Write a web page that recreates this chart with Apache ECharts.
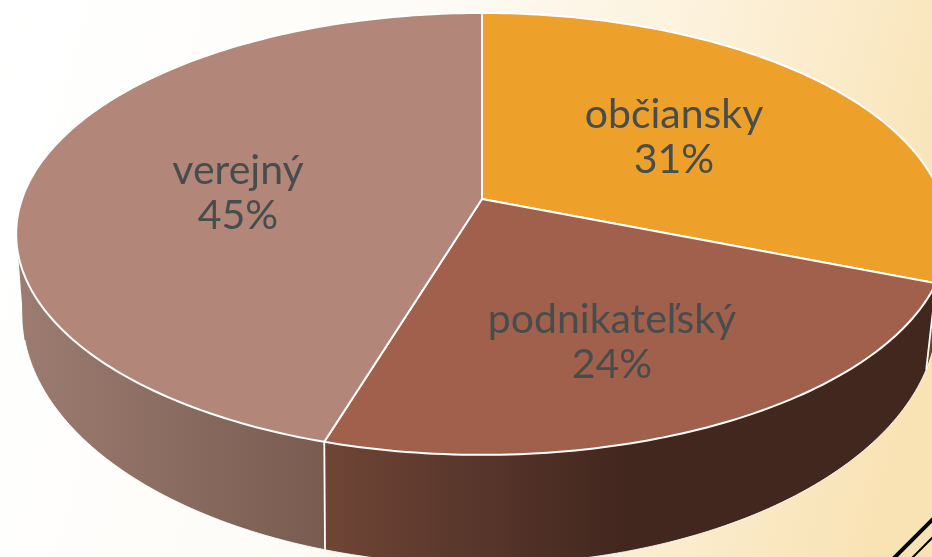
<!DOCTYPE html>
<html><head><meta charset="utf-8">
<style>html,body{margin:0;padding:0;background:#fff}#c{width:932px;height:557px}</style>
<script src="https://cdn.jsdelivr.net/npm/echarts@6/dist/echarts.min.js"></script>
</head><body><div id="c"></div>
<script>
const categories = ['občiansky', 'podnikateľský', 'verejný'];
const shares = [31, 23.7, 45.3];

const topColors = ['#EDA12B', '#A0604B', '#B28678'];
const wallStops = [
  [[0, '#6b4a12'], [1, '#6b4a12']],
  [[0, '#6f4536'], [0.92, '#42271F'], [1, '#42271F']],
  [[0, '#9C7C70'], [1, '#795B50']]
];
const wallRange = [[900, 940], [326, 650], [20, 322]];
const labelCentres = [[674, 137], [612, 342], [238, 193]];
const topRing = { cx: 482, a: 184, b: 199, c: 460, k: -0.158 };
const baseRing = { cx: 480, a: 201.4, b: 274, c: 452, k: -0.158 };
const frontFrom = 90, frontTo = 255, tangentTop = 262;

function project(r, deg, rad) {
  const t = deg * Math.PI / 180;
  const u = Math.sin(t) * (rad === undefined ? 1 : rad);
  const v = -Math.cos(t) * (rad === undefined ? 1 : rad);
  const d = 1 + r.k * v;
  return [r.cx + r.c * u / d, (r.a * v + r.b) / d];
}
const total = shares.reduce((s, x) => s + x, 0);
function arc(r, a0, a1) {
  const n = Math.max(4, Math.ceil(a1 - a0));
  const out = [];
  for (let i = 0; i <= n; i++) out.push(project(r, a0 + (a1 - a0) * i / n));
  return out;
}
function renderItem(params, api) {
  const i = params.dataIndex;
  let before = 0;
  for (let j = 0; j < i; j++) before += api.value(0, j);
  const a0 = before / total * 360;
  const a1 = (before + api.value(0)) / total * 360;
  const top = arc(topRing, a0, a1);
  const base = arc(baseRing, a0, a1);
  const range = wallRange[i];
  const grad = new echarts.graphic.LinearGradient(
    range[0], 0, range[1], 0,
    wallStops[i].map(s => ({ offset: s[0], color: s[1] })), true);
  const apex = project(topRing, 0, 0);
  const children = [
    { type: 'polygon', z2: 1, shape: { points: top.concat(base.slice().reverse()) },
      style: { fill: grad } }
  ];
  if (a0 <= frontTo && a1 >= tangentTop) {
    children.push({ type: 'polygon', z2: 1,
      shape: { points: [project(topRing, tangentTop), project(baseRing, frontTo), project(topRing, frontTo - 25)] },
      style: { fill: grad } });
  }
  const lo = Math.max(a0, frontFrom), hi = Math.min(a1, frontTo);
  children.push(
    { type: 'polyline', z2: 1.5, shape: { points: arc(baseRing, lo, hi) },
      style: { fill: null, stroke: 'rgba(255,255,255,0.85)', lineWidth: 1 } },
    { type: 'polyline', z2: 1.6, shape: { points: [top[top.length - 1], base[base.length - 1]] },
      style: { fill: null, stroke: i === 2 ? 'transparent' : '#fff', lineWidth: 1.8 } },
    { type: 'polygon', z2: 2, shape: { points: [apex].concat(top) },
      style: { fill: topColors[i], stroke: '#fff', lineWidth: 2, lineJoin: 'round' } },
    { type: 'text', z2: 3,
      style: {
        x: labelCentres[i][0], y: labelCentres[i][1],
        text: categories[i] + '\n' + Math.round(api.value(0)) + '%',
        align: 'center', verticalAlign: 'middle',
        fontFamily: 'Lato, sans-serif', fontWeight: 400, fontSize: 41, lineHeight: 45,
        fill: '#474d4d'
      } });
  return { type: 'group', children };
}
const chart = echarts.init(document.getElementById('c'), null, { renderer: 'canvas' });
chart.setOption({
  animation: false,
  backgroundColor: {
    type: 'linear', x: 0, y: 0.1, x2: 1, y2: 0.55,
    colorStops: [
      { offset: 0, color: '#ffffff' },
      { offset: 0.4, color: '#fefcf8' },
      { offset: 0.7, color: '#fcf1da' },
      { offset: 1, color: '#f9e3b5' }
    ]
  },
  graphic: [
    { type: 'line', z: 5, shape: { x1: 893, y1: 559, x2: 934, y2: 518 }, style: { stroke: '#000', lineWidth: 4 } },
    { type: 'line', z: 5, shape: { x1: 911, y1: 559, x2: 934, y2: 536 }, style: { stroke: '#000', lineWidth: 2 } }
  ],
  series: [{
    type: 'custom',
    coordinateSystem: 'none',
    renderItem,
    silent: true,
    data: shares.map((v, i) => ({ name: categories[i], value: [v] }))
  }]
});
</script></body></html>
